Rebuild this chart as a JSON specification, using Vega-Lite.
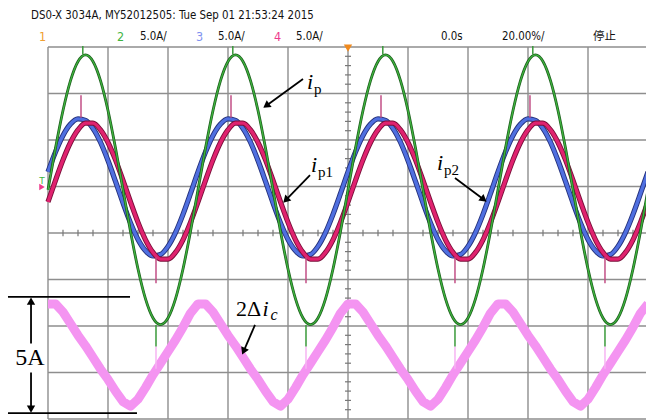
{
  "$schema": "https://vega.github.io/schema/vega-lite/v6.json",
  "width": 646,
  "height": 420,
  "autosize": {"type": "none"},
  "padding": 0,
  "background": "white",
  "config": {"view": {"stroke": null}},
  "datasets": {
    "traces": [
      {"t": 0, "ip": 4.65, "ip1": 6.57, "ip2": 3.34, "dic": -3.05},
      {"t": 0.125, "ip": 9.13, "ip1": 8.71, "ip2": 5.66, "dic": -3.05},
      {"t": 0.25, "ip": 13.17, "ip1": 10.49, "ip2": 7.86, "dic": -3.4},
      {"t": 0.375, "ip": 16.38, "ip1": 11.71, "ip2": 9.73, "dic": -3.9},
      {"t": 0.5, "ip": 18.44, "ip1": 12.27, "ip2": 11.09, "dic": -4.4},
      {"t": 0.625, "ip": 19.15, "ip1": 12.11, "ip2": 11.81, "dic": -4.85},
      {"t": 0.75, "ip": 18.44, "ip1": 11.24, "ip2": 11.81, "dic": -5.35},
      {"t": 0.875, "ip": 16.38, "ip1": 9.76, "ip2": 11.09, "dic": -5.85},
      {"t": 1.0, "ip": 13.17, "ip1": 7.79, "ip2": 9.73, "dic": -6.3},
      {"t": 1.125, "ip": 9.13, "ip1": 5.55, "ip2": 7.86, "dic": -6.8},
      {"t": 1.25, "ip": 4.65, "ip1": 3.24, "ip2": 5.66, "dic": -7.25},
      {"t": 1.375, "ip": 0.17, "ip1": 1.09, "ip2": 3.34, "dic": -7.45},
      {"t": 1.5, "ip": -3.87, "ip1": -0.69, "ip2": 1.14, "dic": -7.15},
      {"t": 1.625, "ip": -7.08, "ip1": -1.91, "ip2": -0.73, "dic": -6.65},
      {"t": 1.75, "ip": -9.14, "ip1": -2.47, "ip2": -2.09, "dic": -6.1},
      {"t": 1.875, "ip": -9.85, "ip1": -2.31, "ip2": -2.81, "dic": -5.6},
      {"t": 2.0, "ip": -9.14, "ip1": -1.44, "ip2": -2.81, "dic": -5.1},
      {"t": 2.125, "ip": -7.08, "ip1": 0.04, "ip2": -2.09, "dic": -4.6},
      {"t": 2.25, "ip": -3.87, "ip1": 2.01, "ip2": -0.73, "dic": -4.05},
      {"t": 2.375, "ip": 0.17, "ip1": 4.25, "ip2": 1.14, "dic": -3.45},
      {"t": 2.5, "ip": 4.65, "ip1": 6.57, "ip2": 3.34, "dic": -3.05},
      {"t": 2.625, "ip": 9.13, "ip1": 8.71, "ip2": 5.66, "dic": -3.05},
      {"t": 2.75, "ip": 13.17, "ip1": 10.49, "ip2": 7.86, "dic": -3.4},
      {"t": 2.875, "ip": 16.38, "ip1": 11.71, "ip2": 9.73, "dic": -3.9},
      {"t": 3.0, "ip": 18.44, "ip1": 12.27, "ip2": 11.09, "dic": -4.4},
      {"t": 3.125, "ip": 19.15, "ip1": 12.11, "ip2": 11.81, "dic": -4.85},
      {"t": 3.25, "ip": 18.44, "ip1": 11.24, "ip2": 11.81, "dic": -5.35},
      {"t": 3.375, "ip": 16.38, "ip1": 9.76, "ip2": 11.09, "dic": -5.85},
      {"t": 3.5, "ip": 13.17, "ip1": 7.79, "ip2": 9.73, "dic": -6.3},
      {"t": 3.625, "ip": 9.13, "ip1": 5.55, "ip2": 7.86, "dic": -6.8},
      {"t": 3.75, "ip": 4.65, "ip1": 3.24, "ip2": 5.66, "dic": -7.25},
      {"t": 3.875, "ip": 0.17, "ip1": 1.09, "ip2": 3.34, "dic": -7.45},
      {"t": 4.0, "ip": -3.87, "ip1": -0.69, "ip2": 1.14, "dic": -7.15},
      {"t": 4.125, "ip": -7.08, "ip1": -1.91, "ip2": -0.73, "dic": -6.65},
      {"t": 4.25, "ip": -9.14, "ip1": -2.47, "ip2": -2.09, "dic": -6.1},
      {"t": 4.375, "ip": -9.85, "ip1": -2.31, "ip2": -2.81, "dic": -5.6},
      {"t": 4.5, "ip": -9.14, "ip1": -1.44, "ip2": -2.81, "dic": -5.1},
      {"t": 4.625, "ip": -7.08, "ip1": 0.04, "ip2": -2.09, "dic": -4.6},
      {"t": 4.75, "ip": -3.87, "ip1": 2.01, "ip2": -0.73, "dic": -4.05},
      {"t": 4.875, "ip": 0.17, "ip1": 4.25, "ip2": 1.14, "dic": -3.45},
      {"t": 5.0, "ip": 4.65, "ip1": 6.57, "ip2": 3.34, "dic": -3.05},
      {"t": 5.125, "ip": 9.13, "ip1": 8.71, "ip2": 5.66, "dic": -3.05},
      {"t": 5.25, "ip": 13.17, "ip1": 10.49, "ip2": 7.86, "dic": -3.4},
      {"t": 5.375, "ip": 16.38, "ip1": 11.71, "ip2": 9.73, "dic": -3.9},
      {"t": 5.5, "ip": 18.44, "ip1": 12.27, "ip2": 11.09, "dic": -4.4},
      {"t": 5.625, "ip": 19.15, "ip1": 12.11, "ip2": 11.81, "dic": -4.85},
      {"t": 5.75, "ip": 18.44, "ip1": 11.24, "ip2": 11.81, "dic": -5.35},
      {"t": 5.875, "ip": 16.38, "ip1": 9.76, "ip2": 11.09, "dic": -5.85},
      {"t": 6.0, "ip": 13.17, "ip1": 7.79, "ip2": 9.73, "dic": -6.3},
      {"t": 6.125, "ip": 9.13, "ip1": 5.55, "ip2": 7.86, "dic": -6.8},
      {"t": 6.25, "ip": 4.65, "ip1": 3.24, "ip2": 5.66, "dic": -7.25},
      {"t": 6.375, "ip": 0.17, "ip1": 1.09, "ip2": 3.34, "dic": -7.45},
      {"t": 6.5, "ip": -3.87, "ip1": -0.69, "ip2": 1.14, "dic": -7.15},
      {"t": 6.625, "ip": -7.08, "ip1": -1.91, "ip2": -0.73, "dic": -6.65},
      {"t": 6.75, "ip": -9.14, "ip1": -2.47, "ip2": -2.09, "dic": -6.1},
      {"t": 6.875, "ip": -9.85, "ip1": -2.31, "ip2": -2.81, "dic": -5.6},
      {"t": 7.0, "ip": -9.14, "ip1": -1.44, "ip2": -2.81, "dic": -5.1},
      {"t": 7.125, "ip": -7.08, "ip1": 0.04, "ip2": -2.09, "dic": -4.6},
      {"t": 7.25, "ip": -3.87, "ip1": 2.01, "ip2": -0.73, "dic": -4.05},
      {"t": 7.375, "ip": 0.17, "ip1": 4.25, "ip2": 1.14, "dic": -3.45},
      {"t": 7.5, "ip": 4.65, "ip1": 6.57, "ip2": 3.34, "dic": -3.05},
      {"t": 7.625, "ip": 9.13, "ip1": 8.71, "ip2": 5.66, "dic": -3.05},
      {"t": 7.75, "ip": 13.17, "ip1": 10.49, "ip2": 7.86, "dic": -3.4},
      {"t": 7.875, "ip": 16.38, "ip1": 11.71, "ip2": 9.73, "dic": -3.9},
      {"t": 8.0, "ip": 18.44, "ip1": 12.27, "ip2": 11.09, "dic": -4.4},
      {"t": 8.125, "ip": 19.15, "ip1": 12.11, "ip2": 11.81, "dic": -4.85},
      {"t": 8.25, "ip": 18.44, "ip1": 11.24, "ip2": 11.81, "dic": -5.35},
      {"t": 8.375, "ip": 16.38, "ip1": 9.76, "ip2": 11.09, "dic": -5.85},
      {"t": 8.5, "ip": 13.17, "ip1": 7.79, "ip2": 9.73, "dic": -6.3},
      {"t": 8.625, "ip": 9.13, "ip1": 5.55, "ip2": 7.86, "dic": -6.8},
      {"t": 8.75, "ip": 4.65, "ip1": 3.24, "ip2": 5.66, "dic": -7.25},
      {"t": 8.875, "ip": 0.17, "ip1": 1.09, "ip2": 3.34, "dic": -7.45},
      {"t": 9.0, "ip": -3.87, "ip1": -0.69, "ip2": 1.14, "dic": -7.15},
      {"t": 9.125, "ip": -7.08, "ip1": -1.91, "ip2": -0.73, "dic": -6.65},
      {"t": 9.25, "ip": -9.14, "ip1": -2.47, "ip2": -2.09, "dic": -6.1},
      {"t": 9.375, "ip": -9.85, "ip1": -2.31, "ip2": -2.81, "dic": -5.6},
      {"t": 9.5, "ip": -9.14, "ip1": -1.44, "ip2": -2.81, "dic": -5.1},
      {"t": 9.625, "ip": -7.08, "ip1": 0.04, "ip2": -2.09, "dic": -4.6},
      {"t": 9.75, "ip": -3.87, "ip1": 2.01, "ip2": -0.73, "dic": -4.05},
      {"t": 9.875, "ip": 0.17, "ip1": 4.25, "ip2": 1.14, "dic": -3.45},
      {"t": 10.0, "ip": 4.65, "ip1": 6.57, "ip2": 3.34, "dic": -3.05}
    ],
    "gridX": [{"x": 0}, {"x": 1}, {"x": 2}, {"x": 3}, {"x": 4}, {"x": 5}, {"x": 6}, {"x": 7}, {"x": 8}, {"x": 9}],
    "gridY": [{"y": -4}, {"y": -3}, {"y": -2}, {"y": -1}, {"y": 0}, {"y": 1}, {"y": 2}, {"y": 3}, {"y": 4}],
    "minorX": [
      {"x": 0.25}, {"x": 0.5}, {"x": 0.75}, {"x": 1.25}, {"x": 1.5}, {"x": 1.75},
      {"x": 2.25}, {"x": 2.5}, {"x": 2.75}, {"x": 3.25}, {"x": 3.5}, {"x": 3.75},
      {"x": 4.25}, {"x": 4.5}, {"x": 4.75}, {"x": 5.25}, {"x": 5.5}, {"x": 5.75},
      {"x": 6.25}, {"x": 6.5}, {"x": 6.75}, {"x": 7.25}, {"x": 7.5}, {"x": 7.75},
      {"x": 8.25}, {"x": 8.5}, {"x": 8.75}, {"x": 9.25}, {"x": 9.5}, {"x": 9.75}
    ],
    "minorY": [
      {"y": -3.8}, {"y": -3.6}, {"y": -3.4}, {"y": -3.2}, {"y": -2.8}, {"y": -2.6}, {"y": -2.4}, {"y": -2.2},
      {"y": -1.8}, {"y": -1.6}, {"y": -1.4}, {"y": -1.2}, {"y": -0.8}, {"y": -0.6}, {"y": -0.4}, {"y": -0.2},
      {"y": 0.2}, {"y": 0.4}, {"y": 0.6}, {"y": 0.8}, {"y": 1.2}, {"y": 1.4}, {"y": 1.6}, {"y": 1.8},
      {"y": 2.2}, {"y": 2.4}, {"y": 2.6}, {"y": 2.8}, {"y": 3.2}, {"y": 3.4}, {"y": 3.6}, {"y": 3.8}
    ],
    "peakSpikes": [{"x": 0.55}, {"x": 3.05}, {"x": 5.55}, {"x": 8.033}],
    "troughSpikes": [{"x": 1.8}, {"x": 4.3}, {"x": 6.783}, {"x": 9.283}],
    "greenPeakSpikes": [{"x": 0.58}, {"x": 3.08}, {"x": 5.58}, {"x": 8.08}],
    "arrows": [
      {"x": 4.25, "y": 3.312, "x2": 3.637, "y2": 2.738, "angle": 234},
      {"x": 4.367, "y": 1.247, "x2": 3.963, "y2": 0.7075, "angle": 224},
      {"x": 6.783, "y": 1.183, "x2": 7.263, "y2": 0.72, "angle": 128},
      {"x": 3.45, "y": -1.978, "x2": 3.26, "y2": -2.544, "angle": 203.5}
    ]
  },
  "resolve": {"scale": {"y": "independent"}},
  "layer": [
    {
      "data": {"name": "gridX"},
      "mark": {"type": "rule", "color": "#8e8e8e", "strokeWidth": 1.4},
      "encoding": {
        "x": {"field": "x", "type": "quantitative", "axis": null, "scale": {"domain": [-0.8, 9.9667], "nice": false, "zero": false}},
        "y": {"datum": -4, "type": "quantitative", "axis": null, "scale": {"domain": [-4.0215, 5.0108], "nice": false, "zero": false}},
        "y2": {"datum": 4}
      }
    },
    {
      "data": {"name": "gridY"},
      "mark": {"type": "rule", "color": "#8e8e8e", "strokeWidth": 1.4},
      "encoding": {
        "y": {"field": "y", "type": "quantitative", "axis": null, "scale": {"domain": [-4.0215, 5.0108], "nice": false, "zero": false}},
        "x": {"datum": 0, "type": "quantitative", "axis": null, "scale": {"domain": [-0.8, 9.9667], "nice": false, "zero": false}},
        "x2": {"datum": 9.9667}
      }
    },
    {
      "data": {"name": "minorX"},
      "mark": {"type": "rule", "color": "#777777", "strokeWidth": 1.2},
      "encoding": {
        "x": {"field": "x", "type": "quantitative", "axis": null, "scale": {"domain": [-0.8, 9.9667], "nice": false, "zero": false}},
        "y": {"datum": -0.07, "type": "quantitative", "axis": null, "scale": {"domain": [-4.0215, 5.0108], "nice": false, "zero": false}},
        "y2": {"datum": 0.07}
      }
    },
    {
      "data": {"name": "minorY"},
      "mark": {"type": "rule", "color": "#777777", "strokeWidth": 1.2},
      "encoding": {
        "y": {"field": "y", "type": "quantitative", "axis": null, "scale": {"domain": [-4.0215, 5.0108], "nice": false, "zero": false}},
        "x": {"datum": 4.95, "type": "quantitative", "axis": null, "scale": {"domain": [-0.8, 9.9667], "nice": false, "zero": false}},
        "x2": {"datum": 5.05}
      }
    },
    {
      "description": "2Δi_c trace, 2 A/div",
      "data": {"name": "traces"},
      "mark": {"type": "line", "color": "#f494f1", "strokeWidth": 9, "interpolate": "linear", "strokeJoin": "round"},
      "encoding": {
        "x": {"field": "t", "type": "quantitative", "axis": null, "scale": {"domain": [-0.8, 9.9667], "nice": false, "zero": false}},
        "y": {"field": "dic", "type": "quantitative", "axis": null, "scale": {"domain": [-8.043, 10.0216], "nice": false, "zero": false}}
      }
    },
    {
      "data": {"name": "troughSpikes"},
      "mark": {"type": "rule", "color": "#f6b4f2", "strokeWidth": 1.5},
      "encoding": {
        "x": {"field": "x", "type": "quantitative", "axis": null, "scale": {"domain": [-0.8, 9.9667], "nice": false, "zero": false}},
        "y": {"datum": -12.2, "type": "quantitative", "axis": null, "scale": {"domain": [-20.1075, 25.054], "nice": false, "zero": false}},
        "y2": {"datum": -14.6}
      }
    },
    {
      "data": {"name": "traces"},
      "mark": {"type": "line", "color": "#24307a", "strokeWidth": 5.2, "interpolate": "monotone"},
      "encoding": {
        "x": {"field": "t", "type": "quantitative", "axis": null, "scale": {"domain": [-0.8, 9.9667], "nice": false, "zero": false}},
        "y": {"field": "ip1", "type": "quantitative", "axis": null, "scale": {"domain": [-20.1075, 25.054], "nice": false, "zero": false}}
      }
    },
    {
      "description": "i_p1, 5 A/div",
      "data": {"name": "traces"},
      "mark": {"type": "line", "color": "#4f6fe0", "strokeWidth": 3.4, "interpolate": "monotone"},
      "encoding": {
        "x": {"field": "t", "type": "quantitative", "axis": null, "scale": {"domain": [-0.8, 9.9667], "nice": false, "zero": false}},
        "y": {"field": "ip1", "type": "quantitative", "axis": null, "scale": {"domain": [-20.1075, 25.054], "nice": false, "zero": false}}
      }
    },
    {
      "data": {"name": "traces"},
      "mark": {"type": "line", "color": "#7a0f3a", "strokeWidth": 5.2, "interpolate": "monotone"},
      "encoding": {
        "x": {"field": "t", "type": "quantitative", "axis": null, "scale": {"domain": [-0.8, 9.9667], "nice": false, "zero": false}},
        "y": {"field": "ip2", "type": "quantitative", "axis": null, "scale": {"domain": [-20.1075, 25.054], "nice": false, "zero": false}}
      }
    },
    {
      "description": "i_p2, 5 A/div",
      "data": {"name": "traces"},
      "mark": {"type": "line", "color": "#e0226f", "strokeWidth": 3.4, "interpolate": "monotone"},
      "encoding": {
        "x": {"field": "t", "type": "quantitative", "axis": null, "scale": {"domain": [-0.8, 9.9667], "nice": false, "zero": false}},
        "y": {"field": "ip2", "type": "quantitative", "axis": null, "scale": {"domain": [-20.1075, 25.054], "nice": false, "zero": false}}
      }
    },
    {
      "data": {"name": "peakSpikes"},
      "mark": {"type": "rule", "color": "#c24f86", "strokeWidth": 1.5},
      "encoding": {
        "x": {"field": "x", "type": "quantitative", "axis": null, "scale": {"domain": [-0.8, 9.9667], "nice": false, "zero": false}},
        "y": {"datum": 12.4, "type": "quantitative", "axis": null, "scale": {"domain": [-20.1075, 25.054], "nice": false, "zero": false}},
        "y2": {"datum": 14.8}
      }
    },
    {
      "data": {"name": "troughSpikes"},
      "mark": {"type": "rule", "color": "#c24f86", "strokeWidth": 1.5},
      "encoding": {
        "x": {"field": "x", "type": "quantitative", "axis": null, "scale": {"domain": [-0.8, 9.9667], "nice": false, "zero": false}},
        "y": {"datum": -2.6, "type": "quantitative", "axis": null, "scale": {"domain": [-20.1075, 25.054], "nice": false, "zero": false}},
        "y2": {"datum": -5.4}
      }
    },
    {
      "data": {"name": "traces"},
      "mark": {"type": "line", "color": "#1c5e1c", "strokeWidth": 2.8, "interpolate": "monotone"},
      "encoding": {
        "x": {"field": "t", "type": "quantitative", "axis": null, "scale": {"domain": [-0.8, 9.9667], "nice": false, "zero": false}},
        "y": {"field": "ip", "type": "quantitative", "axis": null, "scale": {"domain": [-20.1075, 25.054], "nice": false, "zero": false}}
      }
    },
    {
      "description": "i_p, 5 A/div",
      "data": {"name": "traces"},
      "mark": {"type": "line", "color": "#3fb43f", "strokeWidth": 1.3, "interpolate": "monotone"},
      "encoding": {
        "x": {"field": "t", "type": "quantitative", "axis": null, "scale": {"domain": [-0.8, 9.9667], "nice": false, "zero": false}},
        "y": {"field": "ip", "type": "quantitative", "axis": null, "scale": {"domain": [-20.1075, 25.054], "nice": false, "zero": false}}
      }
    },
    {
      "data": {"name": "troughSpikes"},
      "mark": {"type": "rule", "color": "#3a9a3a", "strokeWidth": 1.5},
      "encoding": {
        "x": {"field": "x", "type": "quantitative", "axis": null, "scale": {"domain": [-0.8, 9.9667], "nice": false, "zero": false}},
        "y": {"datum": -9.9, "type": "quantitative", "axis": null, "scale": {"domain": [-20.1075, 25.054], "nice": false, "zero": false}},
        "y2": {"datum": -12.2}
      }
    },
    {
      "data": {"name": "greenPeakSpikes"},
      "mark": {"type": "rule", "color": "#3a9a3a", "strokeWidth": 1.5},
      "encoding": {
        "x": {"field": "x", "type": "quantitative", "axis": null, "scale": {"domain": [-0.8, 9.9667], "nice": false, "zero": false}},
        "y": {"datum": 19.2, "type": "quantitative", "axis": null, "scale": {"domain": [-20.1075, 25.054], "nice": false, "zero": false}},
        "y2": {"datum": 20.1}
      }
    },
    {
      "data": {"name": "arrows"},
      "mark": {"type": "rule", "color": "#000000", "strokeWidth": 1.8},
      "encoding": {
        "x": {"field": "x", "type": "quantitative", "axis": null, "scale": {"domain": [-0.8, 9.9667], "nice": false, "zero": false}},
        "y": {"field": "y", "type": "quantitative", "axis": null, "scale": {"domain": [-4.0215, 5.0108], "nice": false, "zero": false}},
        "x2": {"field": "x2"},
        "y2": {"field": "y2"}
      }
    },
    {
      "data": {"name": "arrows"},
      "mark": {"type": "point", "shape": "triangle-up", "filled": true, "color": "#000000", "size": 70, "opacity": 1},
      "encoding": {
        "x": {"field": "x2", "type": "quantitative", "axis": null, "scale": {"domain": [-0.8, 9.9667], "nice": false, "zero": false}},
        "y": {"field": "y2", "type": "quantitative", "axis": null, "scale": {"domain": [-4.0215, 5.0108], "nice": false, "zero": false}},
        "angle": {"field": "angle", "type": "quantitative", "scale": null}
      }
    },
    {
      "description": "5 A span of the 2Δi_c trace",
      "data": {"values": [{"x": -0.667, "x2": 1.367, "y": -2.75}, {"x": -0.667, "x2": 1.483, "y": -7.75}]},
      "mark": {"type": "rule", "color": "#000000", "strokeWidth": 1.8},
      "encoding": {
        "x": {"field": "x", "type": "quantitative", "axis": null, "scale": {"domain": [-0.8, 9.9667], "nice": false, "zero": false}},
        "x2": {"field": "x2"},
        "y": {"field": "y", "type": "quantitative", "axis": null, "scale": {"domain": [-8.043, 10.0216], "nice": false, "zero": false}}
      }
    },
    {
      "data": {"values": [{"x": -0.283, "y": -2.9, "y2": -4.75}, {"x": -0.283, "y": -6.0, "y2": -7.6}]},
      "mark": {"type": "rule", "color": "#000000", "strokeWidth": 1.8},
      "encoding": {
        "x": {"field": "x", "type": "quantitative", "axis": null, "scale": {"domain": [-0.8, 9.9667], "nice": false, "zero": false}},
        "y": {"field": "y", "type": "quantitative", "axis": null, "scale": {"domain": [-8.043, 10.0216], "nice": false, "zero": false}},
        "y2": {"field": "y2"}
      }
    },
    {
      "data": {"values": [{"x": -0.283, "y": -2.93}]},
      "mark": {"type": "point", "shape": "triangle-up", "filled": true, "color": "#000000", "size": 70, "opacity": 1},
      "encoding": {
        "x": {"field": "x", "type": "quantitative", "axis": null, "scale": {"domain": [-0.8, 9.9667], "nice": false, "zero": false}},
        "y": {"field": "y", "type": "quantitative", "axis": null, "scale": {"domain": [-8.043, 10.0216], "nice": false, "zero": false}}
      }
    },
    {
      "data": {"values": [{"x": -0.283, "y": -7.57}]},
      "mark": {"type": "point", "shape": "triangle-down", "filled": true, "color": "#000000", "size": 70, "opacity": 1},
      "encoding": {
        "x": {"field": "x", "type": "quantitative", "axis": null, "scale": {"domain": [-0.8, 9.9667], "nice": false, "zero": false}},
        "y": {"field": "y", "type": "quantitative", "axis": null, "scale": {"domain": [-8.043, 10.0216], "nice": false, "zero": false}}
      }
    },
    {
      "data": {"values": [{"x": -0.3, "y": -5.376, "label": "5A"}]},
      "mark": {"type": "text", "font": "Liberation Serif", "fontSize": 24, "align": "center", "baseline": "middle", "color": "#000000"},
      "encoding": {
        "x": {"field": "x", "type": "quantitative", "axis": null, "scale": {"domain": [-0.8, 9.9667], "nice": false, "zero": false}},
        "y": {"field": "y", "type": "quantitative", "axis": null, "scale": {"domain": [-8.043, 10.0216], "nice": false, "zero": false}},
        "text": {"field": "label"}
      }
    },
    {
      "data": {"values": [
        {"x": 4.317, "y": 3.097, "label": "i"},
        {"x": 4.383, "y": 1.312, "label": "i"},
        {"x": 6.483, "y": 1.355, "label": "i"},
        {"x": 3.575, "y": -1.785, "label": "i"}
      ]},
      "mark": {"type": "text", "font": "Liberation Serif", "fontStyle": "italic", "fontSize": 22, "align": "left", "baseline": "alphabetic", "color": "#000000"},
      "encoding": {
        "x": {"field": "x", "type": "quantitative", "axis": null, "scale": {"domain": [-0.8, 9.9667], "nice": false, "zero": false}},
        "y": {"field": "y", "type": "quantitative", "axis": null, "scale": {"domain": [-4.0215, 5.0108], "nice": false, "zero": false}},
        "text": {"field": "label"}
      }
    },
    {
      "data": {"values": [
        {"x": 4.433, "y": 2.989, "label": "p"},
        {"x": 4.5, "y": 1.204, "label": "p1"},
        {"x": 6.6, "y": 1.247, "label": "p2"}
      ]},
      "mark": {"type": "text", "font": "Liberation Serif", "fontSize": 15, "align": "left", "baseline": "alphabetic", "color": "#000000"},
      "encoding": {
        "x": {"field": "x", "type": "quantitative", "axis": null, "scale": {"domain": [-0.8, 9.9667], "nice": false, "zero": false}},
        "y": {"field": "y", "type": "quantitative", "axis": null, "scale": {"domain": [-4.0215, 5.0108], "nice": false, "zero": false}},
        "text": {"field": "label"}
      }
    },
    {
      "data": {"values": [{"x": 3.133, "y": -1.785, "label": "2Δ"}]},
      "mark": {"type": "text", "font": "Liberation Serif", "fontSize": 22, "align": "left", "baseline": "alphabetic", "color": "#000000"},
      "encoding": {
        "x": {"field": "x", "type": "quantitative", "axis": null, "scale": {"domain": [-0.8, 9.9667], "nice": false, "zero": false}},
        "y": {"field": "y", "type": "quantitative", "axis": null, "scale": {"domain": [-4.0215, 5.0108], "nice": false, "zero": false}},
        "text": {"field": "label"}
      }
    },
    {
      "data": {"values": [{"x": 3.71, "y": -1.871, "label": "c"}]},
      "mark": {"type": "text", "font": "Liberation Serif", "fontStyle": "italic", "fontSize": 16, "align": "left", "baseline": "alphabetic", "color": "#000000"},
      "encoding": {
        "x": {"field": "x", "type": "quantitative", "axis": null, "scale": {"domain": [-0.8, 9.9667], "nice": false, "zero": false}},
        "y": {"field": "y", "type": "quantitative", "axis": null, "scale": {"domain": [-4.0215, 5.0108], "nice": false, "zero": false}},
        "text": {"field": "label"}
      }
    },
    {
      "description": "scope header",
      "data": {"values": [
        {"x": -0.283, "y": 4.667, "label": "DS0-X 3034A, MY52012505: Tue Sep 01 21:53:24 2015"},
        {"x": 1.533, "y": 4.215, "label": "5.0A/"},
        {"x": 2.833, "y": 4.215, "label": "5.0A/"},
        {"x": 4.133, "y": 4.215, "label": "5.0A/"},
        {"x": 6.55, "y": 4.215, "label": "0.0s"},
        {"x": 7.567, "y": 4.215, "label": "20.00%/"}
      ]},
      "mark": {"type": "text", "font": "Liberation Sans Narrow, DejaVu Sans Condensed, sans-serif", "fontSize": 11.4, "align": "left", "baseline": "middle", "color": "#111111"},
      "encoding": {
        "x": {"field": "x", "type": "quantitative", "axis": null, "scale": {"domain": [-0.8, 9.9667], "nice": false, "zero": false}},
        "y": {"field": "y", "type": "quantitative", "axis": null, "scale": {"domain": [-4.0215, 5.0108], "nice": false, "zero": false}},
        "text": {"field": "label"}
      }
    },
    {
      "data": {"values": [{"x": 9.083, "y": 4.215, "label": "停止"}]},
      "mark": {"type": "text", "font": "Noto Sans CJK SC", "fontSize": 11.5, "align": "left", "baseline": "middle", "color": "#111111"},
      "encoding": {
        "x": {"field": "x", "type": "quantitative", "axis": null, "scale": {"domain": [-0.8, 9.9667], "nice": false, "zero": false}},
        "y": {"field": "y", "type": "quantitative", "axis": null, "scale": {"domain": [-4.0215, 5.0108], "nice": false, "zero": false}},
        "text": {"field": "label"}
      }
    },
    {
      "data": {"values": [
        {"x": -0.15, "y": 4.215, "ch": "1"},
        {"x": 1.15, "y": 4.215, "ch": "2"},
        {"x": 2.467, "y": 4.215, "ch": "3"},
        {"x": 3.767, "y": 4.215, "ch": "4"}
      ]},
      "mark": {"type": "text", "font": "Liberation Sans Narrow, DejaVu Sans Condensed, sans-serif", "fontSize": 12.5, "align": "left", "baseline": "middle"},
      "encoding": {
        "x": {"field": "x", "type": "quantitative", "axis": null, "scale": {"domain": [-0.8, 9.9667], "nice": false, "zero": false}},
        "y": {"field": "y", "type": "quantitative", "axis": null, "scale": {"domain": [-4.0215, 5.0108], "nice": false, "zero": false}},
        "text": {"field": "ch"},
        "color": {"field": "ch", "type": "nominal", "legend": null, "scale": {"domain": ["1", "2", "3", "4"], "range": ["#f0a030", "#3fb43f", "#7f92f0", "#ee3a8c"]}}
      }
    },
    {
      "description": "trigger position marker",
      "data": {"values": [{"x": 5, "y": 3.975}]},
      "mark": {"type": "point", "shape": "triangle-down", "filled": true, "color": "#f08a1e", "size": 70, "opacity": 1},
      "encoding": {
        "x": {"field": "x", "type": "quantitative", "axis": null, "scale": {"domain": [-0.8, 9.9667], "nice": false, "zero": false}},
        "y": {"field": "y", "type": "quantitative", "axis": null, "scale": {"domain": [-4.0215, 5.0108], "nice": false, "zero": false}}
      }
    },
    {
      "description": "ground / trigger level markers",
      "data": {"values": [{"x": -0.1, "y": 0.99}]},
      "mark": {"type": "point", "shape": "triangle-right", "filled": true, "color": "#ee3a8c", "size": 40, "opacity": 1},
      "encoding": {
        "x": {"field": "x", "type": "quantitative", "axis": null, "scale": {"domain": [-0.8, 9.9667], "nice": false, "zero": false}},
        "y": {"field": "y", "type": "quantitative", "axis": null, "scale": {"domain": [-4.0215, 5.0108], "nice": false, "zero": false}}
      }
    },
    {
      "data": {"values": [{"x": -0.1, "y": 1.12, "label": "T"}]},
      "mark": {"type": "text", "font": "DejaVu Sans", "fontSize": 9, "align": "center", "baseline": "middle", "color": "#3fb43f"},
      "encoding": {
        "x": {"field": "x", "type": "quantitative", "axis": null, "scale": {"domain": [-0.8, 9.9667], "nice": false, "zero": false}},
        "y": {"field": "y", "type": "quantitative", "axis": null, "scale": {"domain": [-4.0215, 5.0108], "nice": false, "zero": false}},
        "text": {"field": "label"}
      }
    }
  ]
}
